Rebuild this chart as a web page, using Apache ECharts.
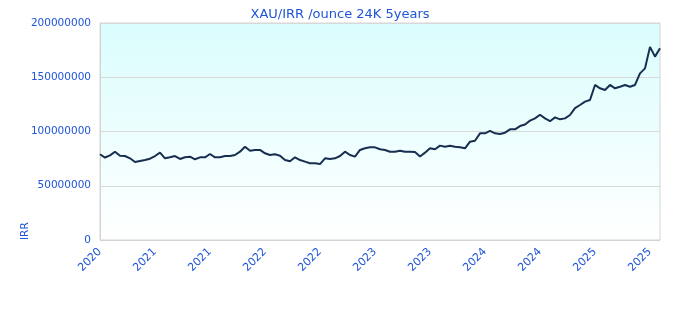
<!DOCTYPE html>
<html>
<head>
<meta charset="utf-8">
<script src="https://cdn.jsdelivr.net/npm/echarts@6/dist/echarts.min.js"></script>
<style>html,body{margin:0;padding:0;background:#fff}#c{width:680px;height:320px}</style>
</head>
<body>
<div id="c"></div>
<script>
// Price of one ounce of 24K gold in IRR (millions)
var pricesM = [
  79, 76, 78, 81.4, 77.7, 77.4, 75.3, 71.9, 72.8, 73.7,
  74.9, 77.4, 80.5, 75.3, 76.2, 77.4, 74.7, 76.2, 76.8, 74.4,
  76.2, 76.2, 79.3, 76.2, 76.2, 77.4, 77.4, 78.3, 81.4, 86.0,
  82.3, 83, 83, 79.9, 78.3, 79, 77.7, 73.7, 72.5, 76.2,
  73.7, 72.2, 70.7, 70.7, 70, 75.3, 74.7, 75.3, 77.4, 81.4,
  78.3, 76.8, 83, 84.5, 85.4, 85.4, 83.6, 83, 81.4, 81.4,
  82.3, 81.4, 81.4, 81.1, 77, 80.5, 84.5, 83.6, 87, 86,
  86.9, 86, 85.4, 84.5, 90.6, 91.5, 98.3, 98.3, 100.5, 98.3,
  97.7, 98.9, 102, 102, 105, 106.5, 110, 112.1, 115.5, 112.1,
  109.5, 113, 111.2, 112.1, 115.2, 121.5, 124.4, 127.5, 129, 142.9,
  139.8, 138.2, 142.9, 139.8, 141.3, 142.9, 141.3, 142.9, 153.6, 158.2,
  178, 169, 176.7
];
var startDate = '2020-07-01';
var stepDays = 17;
var yTicks = [0, 50000000, 100000000, 150000000, 200000000];
var titleText = 'XAU/IRR /ounce 24K 5years';
var unitName = 'IRR';

var dates = [];
var d0 = new Date(startDate + 'T00:00:00Z');
for (var i = 0; i < pricesM.length; i++) {
  var d = new Date(d0.getTime() + i * stepDays * 86400000);
  dates.push(d.toISOString().slice(0, 10));
}
var values = pricesM.map(function (v) { return Math.round(v * 1000000); });

var blue = '#1f55d6';
var chart = echarts.init(document.getElementById('c'), null, {renderer: 'canvas'});
chart.setOption({
  animation: false,
  title: {
    text: titleText, left: 'center', top: 3,
    textStyle: {color: blue, fontSize: 13, fontWeight: 'normal', fontFamily: 'DejaVu Sans'}
  },
  grid: {
    left: 100, right: 20, top: 23, bottom: 80, show: true,
    borderColor: '#d4d4d4', borderWidth: 1,
    backgroundColor: {
      type: 'linear', x: 0, y: 0, x2: 0, y2: 1,
      colorStops: [{offset: 0, color: '#dafdfd'}, {offset: 1, color: '#ffffff'}]
    }
  },
  graphic: [{
    type: 'text', x: 25.5, y: 240, rotation: Math.PI / 2,
    style: {text: unitName, fill: blue, font: '10.5px DejaVu Sans', textAlign: 'left', textVerticalAlign: 'middle'}
  }],
  xAxis: {
    type: 'category', data: dates, boundaryGap: false,
    axisLine: {show: true, lineStyle: {color: '#d4d4d4'}},
    axisTick: {show: false},
    axisLabel: {
      interval: 10, rotate: 45, margin: 10, color: blue, fontSize: 11, fontFamily: 'DejaVu Sans',
      formatter: function (v) { return v.slice(0, 4); }
    },
    splitLine: {show: false}
  },
  yAxis: {
    type: 'value', min: yTicks[0], max: yTicks[yTicks.length - 1], interval: yTicks[1] - yTicks[0],
    axisLine: {show: true, lineStyle: {color: '#d4d4d4'}},
    axisTick: {show: false},
    axisLabel: {color: blue, fontSize: 10.5, fontFamily: 'DejaVu Sans', margin: 9,
      formatter: function (v) { return String(v); }},
    splitLine: {show: true, lineStyle: {color: '#d8d8d8'}}
  },
  series: [{
    type: 'line', data: values, showSymbol: false, symbol: 'none',
    lineStyle: {color: '#172e50', width: 2}
  }]
});
</script>
</body>
</html>
